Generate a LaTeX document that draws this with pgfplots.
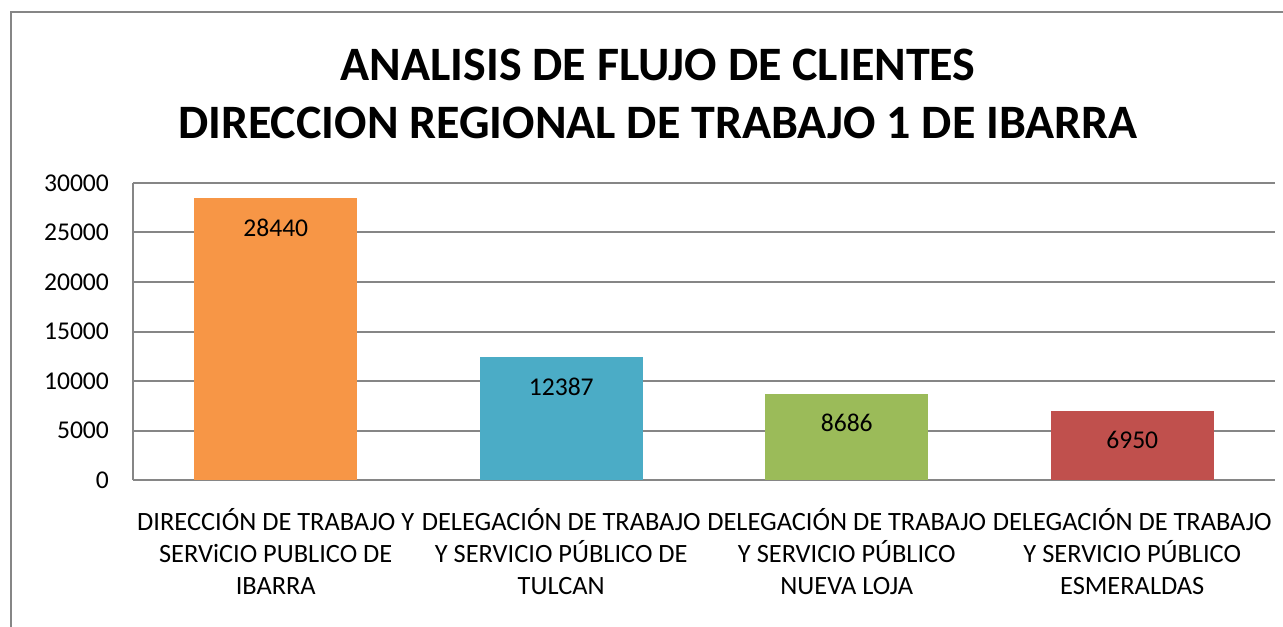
\documentclass[border=0pt]{standalone}
\usepackage{pgfplots}
\pgfplotsset{compat=1.18}
\usepackage{fontspec}
\setmainfont{Carlito}
\definecolor{c1}{HTML}{F79646}
\definecolor{c2}{HTML}{4BACC6}
\definecolor{c3}{HTML}{9BBB59}
\definecolor{c4}{HTML}{C0504D}
\definecolor{gridgray}{HTML}{868686}
\begin{document}
\begin{tikzpicture}
\useasboundingbox (-66.5pt,-73pt) rectangle (575pt,240pt);
\draw[gridgray, line width=1.2pt] (-61pt,-74pt) -- (-61pt,234pt) -- (576pt,234pt);
\node[align=center, font=\fontsize{24}{29}\selectfont\bfseries] at (262.5pt,193pt)
  {ANALISIS DE FLUJO DE CLIENTES\\DIRECCION REGIONAL DE TRABAJO 1 DE IBARRA};
\begin{axis}[
  at={(0pt,0pt)}, anchor=south west,
  scale only axis, width=571pt, height=148.5pt,
  xmin=-0.5, xmax=3.5, ymin=0, ymax=30000,
  ytick={0,5000,10000,15000,20000,25000,30000},
  xtick={0,1,2,3},
  xticklabels={{DIRECCIÓN DE TRABAJO Y\\SERViCIO PUBLICO DE\\IBARRA},
               {DELEGACIÓN DE TRABAJO\\Y SERVICIO PÚBLICO DE\\TULCAN},
               {DELEGACIÓN DE TRABAJO\\Y SERVICIO PÚBLICO\\NUEVA LOJA},
               {DELEGACIÓN DE TRABAJO\\Y SERVICIO PÚBLICO\\ESMERALDAS}},
  xticklabel style={align=center, font=\fontsize{13.2}{16.2}\selectfont, yshift=-10.5pt},
  yticklabel style={font=\fontsize{12.8}{15}\selectfont, xshift=-8.5pt},
  /pgf/number format/assume math mode=true,
  /pgf/number format/1000 sep={},
  scaled y ticks=false,
  ymajorgrids, grid style={gridgray, line width=1pt},
  axis x line*=bottom, axis y line*=left,
  axis line style={gridgray, line width=1pt},
  major tick length=0pt,
  ybar, bar width=81.5pt, bar shift=0pt,
  nodes near coords,
  every node near coord/.append style={anchor=center, yshift=-14.5pt, font=\fontsize{12.8}{15}\selectfont, text=black},
]
\addplot[fill=c1, draw=none] coordinates {(0,28440)};
\addplot[fill=c2, draw=none] coordinates {(1,12387)};
\addplot[fill=c3, draw=none] coordinates {(2,8686)};
\addplot[fill=c4, draw=none] coordinates {(3,6950)};
\end{axis}
\end{tikzpicture}
\end{document}
